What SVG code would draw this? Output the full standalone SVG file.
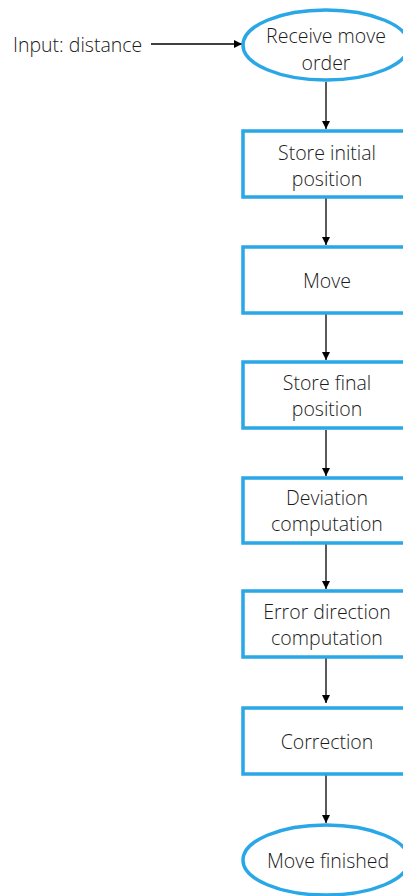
<svg xmlns="http://www.w3.org/2000/svg" width="403" height="896" viewBox="0 0 403 896">
  <style>
    .shape { fill: #ffffff; stroke: #2aa7e6; stroke-width: 3.5; }
    .label { font-family: "Open Sans", "Liberation Sans", sans-serif; font-weight: 300; font-size: 19.5px; fill: #1a1a1a; text-anchor: middle; dominant-baseline: central; }
    .edge { stroke: #000000; stroke-width: 1.3; fill: none; marker-end: url(#arrow); }
  </style>
  <defs>
    <marker id="arrow" viewBox="0 0 10 10" refX="10" refY="5" markerWidth="8" markerHeight="8" markerUnits="userSpaceOnUse" orient="auto">
      <path d="M0,0 L10,5 L0,10 z" fill="#000000"/>
    </marker>
  </defs>
  <rect width="403" height="896" fill="#ffffff"/>

  <g id="connectors">
    <line class="edge" x1="151" y1="44" x2="242" y2="44"/>
    <line class="edge" x1="326" y1="82" x2="326" y2="129"/>
    <line class="edge" x1="326" y1="198" x2="326" y2="245"/>
    <line class="edge" x1="326" y1="314" x2="326" y2="360"/>
    <line class="edge" x1="326" y1="430" x2="326" y2="476"/>
    <line class="edge" x1="326" y1="544" x2="326" y2="589"/>
    <line class="edge" x1="326" y1="658" x2="326" y2="703"/>
    <line class="edge" x1="326" y1="775" x2="326" y2="823"/>
  </g>

  <g id="input">
    <text class="label" x="13" y="44" style="text-anchor: start">Input: distance</text>
  </g>

  <g id="receive">
    <ellipse class="shape" cx="326" cy="45" rx="83" ry="35"/>
    <text class="label" x="326" y="35">Receive move</text>
    <text class="label" x="326" y="62">order</text>
  </g>

  <g id="store-initial">
    <rect class="shape" x="243" y="131" width="175" height="66"/>
    <text class="label" x="327" y="152">Store initial</text>
    <text class="label" x="327" y="178">position</text>
  </g>

  <g id="move">
    <rect class="shape" x="243" y="247" width="175" height="66"/>
    <text class="label" x="327" y="280">Move</text>
  </g>

  <g id="store-final">
    <rect class="shape" x="243" y="362" width="175" height="66"/>
    <text class="label" x="327" y="382">Store final</text>
    <text class="label" x="327" y="408">position</text>
  </g>

  <g id="deviation">
    <rect class="shape" x="243" y="478" width="175" height="65"/>
    <text class="label" x="327" y="497">Deviation</text>
    <text class="label" x="327" y="523">computation</text>
  </g>

  <g id="error-direction">
    <rect class="shape" x="243" y="591" width="175" height="66"/>
    <text class="label" x="327" y="611">Error direction</text>
    <text class="label" x="327" y="637">computation</text>
  </g>

  <g id="correction">
    <rect class="shape" x="243" y="708" width="175" height="66"/>
    <text class="label" x="327" y="741">Correction</text>
  </g>

  <g id="finished">
    <ellipse class="shape" cx="326" cy="860" rx="83" ry="35"/>
    <text class="label" x="328" y="860">Move finished</text>
  </g>
</svg>
